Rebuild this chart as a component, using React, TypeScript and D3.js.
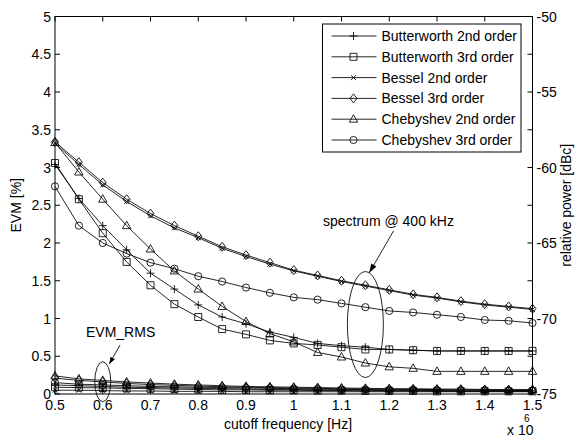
import React from "react";
import * as d3 from "d3";

const W = 576;
const H = 436;

// cutoff frequency [x 10^6 Hz]
const freq = [0.5, 0.55, 0.6, 0.65, 0.7, 0.75, 0.8, 0.85, 0.9, 0.95, 1.0, 1.05, 1.1, 1.15, 1.2, 1.25, 1.3, 1.35, 1.4, 1.45, 1.5];
const xTicks = [0.5, 0.6, 0.7, 0.8, 0.9, 1.0, 1.1, 1.2, 1.3, 1.4, 1.5];
const xTickLabels = ["0.5", "0.6", "0.7", "0.8", "0.9", "1", "1.1", "1.2", "1.3", "1.4", "1.5"];
const leftTicks = [0, 0.5, 1, 1.5, 2, 2.5, 3, 3.5, 4, 4.5, 5];
const leftTickLabels = ["0", "0.5", "1", "1.5", "2", "2.5", "3", "3.5", "4", "4.5", "5"];
const rightTicks = [-75, -72.5, -70, -67.5, -65, -62.5, -60, -57.5, -55, -52.5, -50];
const rightLabels = [-75, -70, -65, -60, -55, -50];

// relative power [dBc] (right axis), spectrum @ 400 kHz
const butter2Spec = [-59.8, -62.05, -63.85, -65.45, -67.0, -68.05, -69.1, -69.9, -70.35, -70.9, -71.25, -71.65, -71.8, -71.9, -72.05, -72.1, -72.15, -72.15, -72.15, -72.15, -72.15];
const butter3Spec = [-59.7, -62.1, -64.35, -66.25, -67.8, -69.05, -69.9, -70.7, -71.05, -71.45, -71.65, -71.75, -71.9, -72.05, -72.05, -72.1, -72.15, -72.15, -72.15, -72.15, -72.15];
const bessel2Spec = [-58.4, -59.8, -61.15, -62.25, -63.2, -64.0, -64.65, -65.35, -65.9, -66.4, -66.85, -67.2, -67.55, -67.85, -68.15, -68.45, -68.65, -68.9, -69.1, -69.25, -69.4];
const bessel3Spec = [-58.3, -59.65, -61.0, -62.1, -63.05, -63.85, -64.55, -65.25, -65.8, -66.3, -66.8, -67.15, -67.5, -67.8, -68.1, -68.4, -68.6, -68.85, -69.05, -69.2, -69.35];
const cheby2Spec = [-58.35, -60.3, -62.1, -63.85, -65.4, -66.85, -68.05, -69.2, -70.2, -71.0, -71.55, -72.25, -72.55, -72.95, -73.2, -73.3, -73.5, -73.5, -73.5, -73.5, -73.5];
const cheby3Spec = [-61.25, -63.85, -65.0, -65.7, -66.3, -66.7, -67.2, -67.55, -67.95, -68.3, -68.6, -68.75, -69.0, -69.25, -69.5, -69.6, -69.75, -69.9, -70.1, -70.15, -70.3];

// EVM [%] (left axis)
const butter2Evm = [0.12, 0.11, 0.1, 0.09, 0.085, 0.08, 0.075, 0.07, 0.065, 0.06, 0.06, 0.055, 0.05, 0.05, 0.045, 0.045, 0.045, 0.04, 0.04, 0.04, 0.04];
const butter3Evm = [0.09, 0.085, 0.08, 0.075, 0.07, 0.065, 0.06, 0.055, 0.055, 0.05, 0.05, 0.045, 0.045, 0.04, 0.04, 0.04, 0.035, 0.035, 0.035, 0.035, 0.035];
const bessel2Evm = [0.05, 0.05, 0.045, 0.04, 0.04, 0.035, 0.035, 0.035, 0.03, 0.03, 0.03, 0.03, 0.03, 0.03, 0.03, 0.03, 0.03, 0.03, 0.03, 0.03, 0.03];
const bessel3Evm = [0.21, 0.18, 0.16, 0.14, 0.125, 0.115, 0.105, 0.095, 0.09, 0.085, 0.08, 0.075, 0.07, 0.065, 0.065, 0.06, 0.06, 0.055, 0.055, 0.05, 0.05];
const cheby2Evm = [0.24, 0.2, 0.18, 0.16, 0.145, 0.13, 0.12, 0.11, 0.1, 0.095, 0.09, 0.085, 0.08, 0.075, 0.07, 0.07, 0.065, 0.065, 0.06, 0.06, 0.06];
const cheby3Evm = [0.15, 0.13, 0.12, 0.11, 0.1, 0.095, 0.09, 0.085, 0.08, 0.075, 0.07, 0.065, 0.06, 0.06, 0.055, 0.055, 0.05, 0.05, 0.05, 0.045, 0.045];

const seriesNames = ["Butterworth 2nd order", "Butterworth 3rd order", "Bessel 2nd order", "Bessel 3rd order", "Chebyshev 2nd order", "Chebyshev 3rd order"];
const seriesMarkers = ["plus", "square", "x", "diamond", "triangle", "circle"];

const series = [
  { name: seriesNames[0], marker: seriesMarkers[0], spec: butter2Spec, evm: butter2Evm },
  { name: seriesNames[1], marker: seriesMarkers[1], spec: butter3Spec, evm: butter3Evm },
  { name: seriesNames[2], marker: seriesMarkers[2], spec: bessel2Spec, evm: bessel2Evm },
  { name: seriesNames[3], marker: seriesMarkers[3], spec: bessel3Spec, evm: bessel3Evm },
  { name: seriesNames[4], marker: seriesMarkers[4], spec: cheby2Spec, evm: cheby2Evm },
  { name: seriesNames[5], marker: seriesMarkers[5], spec: cheby3Spec, evm: cheby3Evm },
];

const FONT = "'Liberation Sans', Arial, Helvetica, sans-serif";
const left = 55, right = 532.5, top = 16.5, bottom = 394;
const tickLen = 5;

const x = d3.scaleLinear().domain([0.5, 1.5]).range([left, right]);
const yL = d3.scaleLinear().domain([0, 5]).range([bottom, top]);
const yR = d3.scaleLinear().domain([-75, -50]).range([bottom, top]);

function markerPath(kind: string): string {
  switch (kind) {
    case "plus": return "M-4,0H4M0,-4V4";
    case "square": return "M-3.5,-3.5H3.5V3.5H-3.5Z";
    case "x": return "M-2.5,-2.5L2.5,2.5M-2.5,2.5L2.5,-2.5";
    case "diamond": return "M0,-4.5L3.5,0L0,4.5L-3.5,0Z";
    case "triangle": return "M0,-4.5L4.2,3L-4.2,3Z";
    default: return d3.arc()({ innerRadius: 0, outerRadius: 3.6, startAngle: 0, endAngle: 2 * Math.PI } as any) || "";
  }
}

const Marker = ({ kind, cx, cy }: { kind: string; cx: number; cy: number }) => (
  <path d={markerPath(kind)} transform={`translate(${cx},${cy})`} fill="none" stroke="#000" strokeWidth={0.85} />
);

function arrowHead(x1: number, y1: number, x2: number, y2: number, len: number, half: number) {
  const a = Math.atan2(y2 - y1, x2 - x1);
  const bx = x2 - len * Math.cos(a), by = y2 - len * Math.sin(a);
  const px = -Math.sin(a) * half, py = Math.cos(a) * half;
  return `M${x2},${y2}L${bx + px},${by + py}L${bx - px},${by - py}Z`;
}

export default function App() {
  const lineSpec = d3.line<number>().x((_, i) => x(freq[i])).y((d) => yR(d));
  const lineEvm = d3.line<number>().x((_, i) => x(freq[i])).y((d) => yL(d));

  const legX = 322.5, legY = 24, legW = 198.5, legH = 128;
  const rowH = 20.8;

  // annotations
  const specArrow = [393.7, 230.7, 369.3, 272.7];
  const evmArrow = [120, 345, 109.3, 364];

  return (
    <svg width={W} height={H} style={{ position: "absolute", left: 0, top: 0, background: "#fff" }} fontFamily={FONT}>
      <rect x={0} y={0} width={W} height={H} fill="#fff" />

      {/* data */}
      {series.map((s) => (
        <g key={s.name}>
          <path d={lineSpec(s.spec) || ""} fill="none" stroke="#000" strokeWidth={0.85} />
          <path d={lineEvm(s.evm) || ""} fill="none" stroke="#000" strokeWidth={0.85} />
          {s.spec.map((v, i) => <Marker key={"s" + i} kind={s.marker} cx={x(freq[i])} cy={yR(v)} />)}
          {s.evm.map((v, i) => <Marker key={"e" + i} kind={s.marker} cx={x(freq[i])} cy={yL(v)} />)}
        </g>
      ))}

      {/* axes box */}
      <rect x={left} y={top} width={right - left} height={bottom - top} fill="none" stroke="#000" strokeWidth={1} />
      {xTicks.map((t) => (
        <g key={"xt" + t}>
          <line x1={x(t)} x2={x(t)} y1={bottom} y2={bottom - tickLen} stroke="#000" />
          <line x1={x(t)} x2={x(t)} y1={top} y2={top + tickLen} stroke="#000" />
        </g>
      ))}
      {leftTicks.map((t) => (
        <line key={"lt" + t} x1={left} x2={left + tickLen} y1={yL(t)} y2={yL(t)} stroke="#000" />
      ))}
      {rightTicks.map((t) => (
        <line key={"rt" + t} x1={right} x2={right - tickLen} y1={yR(t)} y2={yR(t)} stroke="#000" />
      ))}

      {/* tick labels */}
      {xTicks.map((t, i) => (
        <text key={"xl" + t} x={x(t)} y={410} fontSize={14} textAnchor="middle" fill="#000">{xTickLabels[i]}</text>
      ))}
      {leftTicks.map((t, i) => (
        <text key={"ll" + t} x={51} y={yL(t) + 5} fontSize={14} textAnchor="end" fill="#000">{leftTickLabels[i]}</text>
      ))}
      {rightLabels.map((t) => (
        <text key={"rl" + t} x={536.5} y={yR(t) + 5} fontSize={14} textAnchor="start" fill="#000">{t}</text>
      ))}

      {/* axis labels */}
      <text x={288} y={429} fontSize={14} textAnchor="middle" fill="#000">cutoff frequency [Hz]</text>
      <text x={507} y={435} fontSize={14} fill="#000">x 10</text>
      <text x={524} y={422} fontSize={10} fill="#000">6</text>
      <text transform={`translate(20.5,${(top + bottom) / 2}) rotate(-90)`} fontSize={14} textAnchor="middle" fill="#000">EVM [%]</text>
      <text transform={`translate(570.5,${(top + bottom) / 2}) rotate(-90)`} fontSize={14} textAnchor="middle" fill="#000">relative power [dBc]</text>

      {/* annotations */}
      <text x={323} y={226} fontSize={14} fill="#000">spectrum @ 400 kHz</text>
      <line x1={specArrow[0]} y1={specArrow[1]} x2={specArrow[2]} y2={specArrow[3]} stroke="#000" strokeWidth={0.85} />
      <path d={arrowHead(specArrow[0], specArrow[1], specArrow[2], specArrow[3], 9, 3)} fill="#000" />
      <ellipse cx={x(1.15)} cy={324.5} rx={18} ry={53} fill="none" stroke="#000" strokeWidth={0.85} />

      <text x={86} y={337} fontSize={14} fill="#000">EVM_RMS</text>
      <line x1={evmArrow[0]} y1={evmArrow[1]} x2={evmArrow[2]} y2={evmArrow[3]} stroke="#000" strokeWidth={0.85} />
      <path d={arrowHead(evmArrow[0], evmArrow[1], evmArrow[2], evmArrow[3], 7, 2.5)} fill="#000" />
      <ellipse cx={x(0.6)} cy={381.7} rx={8} ry={20} fill="none" stroke="#000" strokeWidth={0.85} />

      {/* legend */}
      <rect x={legX} y={legY} width={legW} height={legH} fill="#fff" stroke="#000" strokeWidth={1} />
      {series.map((s, i) => {
        const cy = legY + 12 + i * rowH;
        return (
          <g key={"lg" + s.name}>
            <line x1={legX + 9} x2={legX + 54} y1={cy} y2={cy} stroke="#000" strokeWidth={0.85} />
            <Marker kind={s.marker} cx={legX + 31} cy={cy} />
            <text x={legX + 59} y={cy + 5} fontSize={14} fill="#000">{s.name}</text>
          </g>
        );
      })}
    </svg>
  );
}
